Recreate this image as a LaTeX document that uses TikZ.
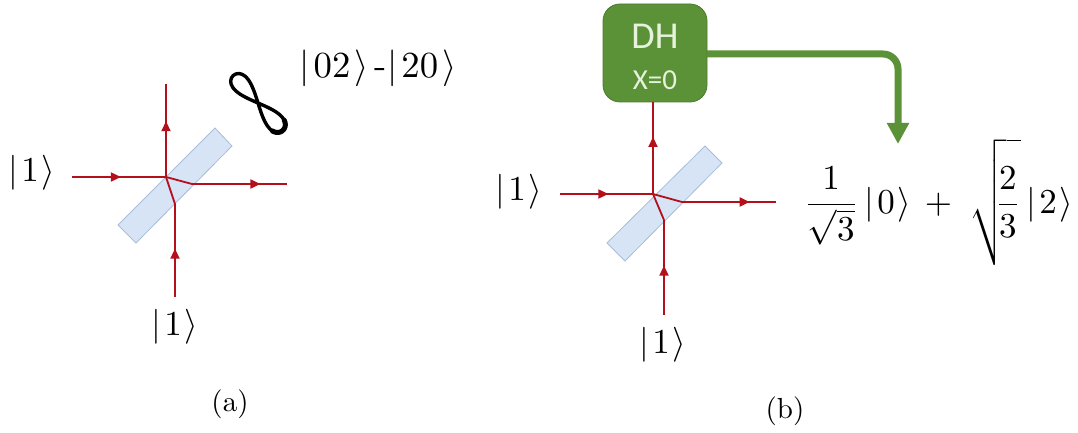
\documentclass[tikz,border=0pt]{standalone}
\usepackage{fontspec}
\usepackage{amsmath}
\usetikzlibrary{arrows.meta,decorations.markings}
\newfontfamily\boxfont{Carlito}
\definecolor{beam}{HTML}{B3101C}
\definecolor{bsfill}{HTML}{D6E4F5}
\definecolor{bsline}{HTML}{A9BCD8}
\definecolor{dhfill}{HTML}{5B9238}
\definecolor{dhline}{HTML}{4A7A2C}
\definecolor{dhtext}{HTML}{E6F2DC}
\newcommand{\ketone}{$|\mkern1.5mu 1\mkern1.5mu\rangle$}
\tikzset{
  x=1pt,y=-1pt,
  beamline/.style={draw=beam,line width=1.8pt,line join=round},
  midtip/.style={postaction={decorate},decoration={markings,mark=at position #1 with {\arrow{Triangle[length=10pt,width=9pt]}}}},
  splitter/.style={fill=bsfill,draw=bsline,line width=0.8pt},
  ket/.style={inner sep=0pt,scale=3.5},
  caption/.style={inner sep=0pt,scale=2.9},
  dhbox/.style={fill=dhfill,draw=dhline,line width=0.8pt,rounded corners=17pt,minimum width=104pt,minimum height=98pt,inner sep=0pt},
  dharrow/.style={draw=dhfill,line width=7pt,rounded corners=15pt,-{Triangle[length=21pt,width=21pt]}}
}
\begin{document}
\begin{tikzpicture}
\path[use as bounding box] (0,0) rectangle (1078,433);
% panel (a)
\draw[splitter] (215,128) -- (232,146) -- (136,243) -- (118,225) -- cycle;
\coordinate (ain) at (72,177);
\coordinate (ac) at (166,177);
\coordinate (ar) at (192,184);
\coordinate (aout) at (287,184);
\coordinate (abot) at (175,297);
\coordinate (ab) at (175,204);
\coordinate (atop) at (166,84);
\path[beamline,midtip=0.52] (ain) -- (ac);
\path[beamline] (ac) -- (ar);
\path[beamline,midtip=0.72] (ar) -- (aout);
\path[beamline,midtip=0.52] (abot) -- (ab);
\path[beamline] (ab) -- (ac);
\path[beamline,midtip=0.6] (ac) -- (atop);
\node[ket] (a1) at (32,173) {\ketone};
\node[ket] (a2) at (175,327) {\ketone};
\node[ket,scale=1.05] (a3) at (378,68) {$|\mkern2mu 02\mkern2mu\rangle$\,-$|\mkern2mu 20\mkern2mu\rangle$};
\begin{scope}[shift={(258,103)},rotate=-48]
\draw[line width=3.4pt,black] plot[smooth cycle,domain=0:350,samples=36] ({37*cos(\x)},{8.5*sin(2*\x)});
\draw[line width=5pt,black,line cap=round] plot[smooth,domain=-35:35,samples=12] ({37*cos(\x)},{8.5*sin(2*\x)});
\end{scope}
\node[caption] (capa) at (230,404) {(a)};
% panel (b)
\draw[splitter] (705,146) -- (722,163) -- (625,261) -- (607,243) -- cycle;
\node[dhbox] (dh) at (655,53) {};
\node[inner sep=0pt,text=dhtext,font=\boxfont\fontsize{38}{40}\selectfont] (dhl) at (655,36) {DH};
\node[inner sep=0pt,text=dhtext,font=\boxfont\fontsize{29}{30}\selectfont] (xl) at (655,80) {X=0};
\coordinate (bin) at (560,194);
\coordinate (bc) at (653,194);
\coordinate (br) at (682,202);
\coordinate (bout) at (776,202);
\coordinate (bbot) at (664,315);
\coordinate (bb) at (664,220);
\coordinate (btop) at (653,102);
\path[beamline,midtip=0.52] (bin) -- (bc);
\path[beamline] (bc) -- (br);
\path[beamline,midtip=0.72] (br) -- (bout);
\path[beamline,midtip=0.52] (bbot) -- (bb);
\path[beamline] (bb) -- (bc);
\path[beamline,midtip=0.62] (bc) -- (btop);
\coordinate (gs) at (707,54);
\coordinate (gc) at (898,54);
\coordinate (gt) at (898,144);
\draw[dharrow] (gs) -- (gc) -- (gt);
\node[ket] (b1) at (519,192) {\ketone};
\node[ket] (b2) at (663,345) {\ketone};
\node[ket,anchor=west] (eq) at (803,202) {$\dfrac{1}{\sqrt{3}}\,|\mkern1.5mu 0\mkern1.5mu\rangle\,+\;\sqrt{\rule[-14pt]{0pt}{33pt}\mkern-6mu\dfrac{2}{3}}\,|\mkern1.5mu 2\mkern1.5mu\rangle$};
\node[caption] (capb) at (785,411) {(b)};
\end{tikzpicture}
\end{document}
